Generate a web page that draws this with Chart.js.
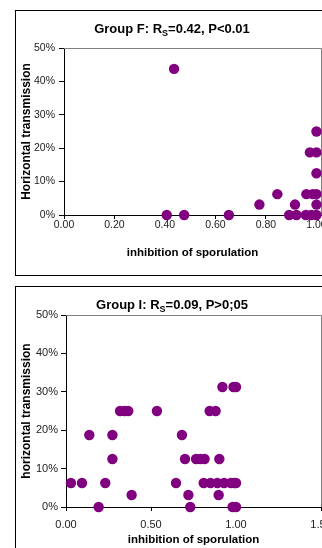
<!DOCTYPE html>
<html><head><meta charset="utf-8">
<script src="https://cdn.jsdelivr.net/npm/chart.js@4.4.1/dist/chart.umd.min.js"></script>
<style>
html,body{margin:0;padding:0;background:#fff;overflow:hidden;width:322px;height:548px;}
.panel{position:absolute;left:15px;width:330px;border:1px solid #000;box-sizing:border-box;background:#fff;}
#p1{top:10px;height:266px;}
#p2{top:286px;height:300px;}
canvas{position:absolute;left:0;top:0;}
.ttl{position:absolute;left:0;width:344px;text-align:center;font:bold 13px "Liberation Sans",Arial,sans-serif;line-height:15px;white-space:nowrap;color:#000;}
.ttl span{font-size:9px;position:relative;top:3px;}
</style></head>
<body>
<div class="panel" id="p1"><canvas id="c1" width="330" height="264"></canvas></div>
<div class="panel" id="p2"><canvas id="c2" width="330" height="270"></canvas></div>
<div class="ttl" style="top:21px;">Group F: R<span>S</span>=0.42, P&lt;0.01</div>
<div class="ttl" style="top:297px;">Group I: R<span>S</span>=0.09, P&gt;0;05</div>
<script>
// ---- data ----
const groupF_x = [0.436, 0.407, 0.476, 0.653, 0.774, 0.845, 0.892, 0.915, 0.921, 0.958, 0.960, 0.974, 0.985, 0.980, 1.0, 1.0, 1.0, 1.0, 1.0, 1.0];
const groupF_y = [43.75, 0, 0, 0, 3.125, 6.25, 0, 3.125, 0, 0, 6.25, 18.75, 6.25, 0, 25, 18.75, 12.5, 6.25, 3.125, 0];

const groupI_x = [0.029, 0.094, 0.137, 0.192, 0.231, 0.273, 0.273, 0.318, 0.345, 0.366, 0.386, 0.535,
                  0.647, 0.682, 0.700, 0.720, 0.731, 0.765, 0.790, 0.815, 0.902,
                  0.810, 0.850, 0.890, 0.930, 0.970, 0.990, 1.0,
                  0.845, 0.880, 0.898, 0.920, 0.985, 1.0, 0.980, 1.0];
const groupI_y = [6.25, 6.25, 18.75, 0, 6.25, 18.75, 12.5, 25, 25, 25, 3.125, 25,
                  6.25, 18.75, 12.5, 3.125, 0, 12.5, 12.5, 12.5, 12.5,
                  6.25, 6.25, 6.25, 6.25, 6.25, 6.25, 6.25,
                  25, 25, 3.125, 31.25, 31.25, 31.25, 0, 0];

const xTicksF = [0, 0.2, 0.4, 0.6, 0.8, 1.0];
const xTicksI = [0, 0.5, 1.0, 1.5];
const yTicks = [0, 10, 20, 30, 40, 50];

const xTitle = 'inhibition of sporulation';
const yTitleF = 'Horizontal transmission';
const yTitleI = 'horizontal transmission';

const FONT = '"Liberation Sans", Arial, sans-serif';
const PURPLE = '#800080';
Chart.defaults.font.family = FONT;

const frame = {
  id: 'frame',
  beforeDatasetsDraw(chart) {
    const {ctx, chartArea: a} = chart;
    ctx.save();
    ctx.strokeStyle = '#808080';
    ctx.lineWidth = 1;
    ctx.beginPath();
    ctx.moveTo(a.left, a.top + 0.5);
    ctx.lineTo(a.right + 0.5, a.top + 0.5);
    ctx.lineTo(a.right + 0.5, a.bottom);
    ctx.stroke();
    ctx.restore();
  }
};

function makeChart(id, xs, ys, cfg) {
  const pts = xs.map((x, i) => ({x: x, y: ys[i]}));
  return new Chart(document.getElementById(id), {
    type: 'scatter',
    data: {datasets: [{data: pts, backgroundColor: PURPLE, borderColor: PURPLE, borderWidth: 0,
      pointRadius: 5.2, pointHoverRadius: 5.2, clip: false}]},
    options: {
      responsive: false, animation: false, events: [],
      devicePixelRatio: 1,
      layout: {autoPadding: false, padding: {left: 0, top: cfg.top, right: cfg.right, bottom: 0}},
      plugins: {legend: {display: false}, tooltip: {enabled: false}, title: {display: false}},
      scales: {
        x: {
          type: 'linear', position: 'bottom', min: cfg.xmin, max: cfg.xmax,
          afterFit(s) { s.height = cfg.xh; },
          afterBuildTicks(s) { s.ticks = cfg.xticks.map(v => ({value: v})); },
          ticks: {stepSize: cfg.xstep, includeBounds: false, padding: cfg.xpad, color: '#222',
            font: {size: cfg.tickSize}, maxRotation: 0, autoSkip: false,
            callback: v => Number(v).toFixed(2)},
          grid: {display: true, drawOnChartArea: false, drawTicks: true, tickLength: 4, tickColor: '#000', tickWidth: 1},
          border: {display: true, color: '#000', width: 1},
          title: {display: true, text: xTitle, color: '#000',
            font: {size: 11.5, weight: 'bold'}, padding: {top: 0, bottom: cfg.xtitlePad}}
        },
        y: {
          type: 'linear', position: 'left', min: 0, max: 50,
          afterFit(s) { s.width = cfg.yw; },
          afterBuildTicks(s) { s.ticks = yTicks.map(v => ({value: v})); },
          ticks: {stepSize: 10, padding: cfg.ypad, color: '#222', font: {size: cfg.tickSize},
            callback: v => v + '%'},
          grid: {display: true, drawOnChartArea: false, drawTicks: true, tickLength: 5, tickColor: '#000', tickWidth: 1},
          border: {display: true, color: '#000', width: 1},
          title: {display: true, text: cfg.ytitle, color: '#000',
            font: {size: 12, weight: 'bold'}, padding: {top: 3.5, bottom: 0}}
        }
      }
    },
    plugins: [frame]
  });
}

makeChart('c1', groupF_x, groupF_y, {
  top: 37, right: 25, xh: 60, yw: 48, xmin: 0, xmax: 1.018, xstep: 0.2, xticks: xTicksF,
  xpad: 0, ypad: 4, tickSize: 10.5, xtitlePad: 15.5, ytitle: yTitleF
});
makeChart('c2', groupI_x, groupI_y, {
  top: 28, right: 25, xh: 50, yw: 50, xmin: 0, xmax: 1.5, xstep: 0.5, xticks: xTicksI,
  xpad: 7, ypad: 3, tickSize: 11, xtitlePad: 9.9, ytitle: yTitleI
});
</script>
</body></html>
